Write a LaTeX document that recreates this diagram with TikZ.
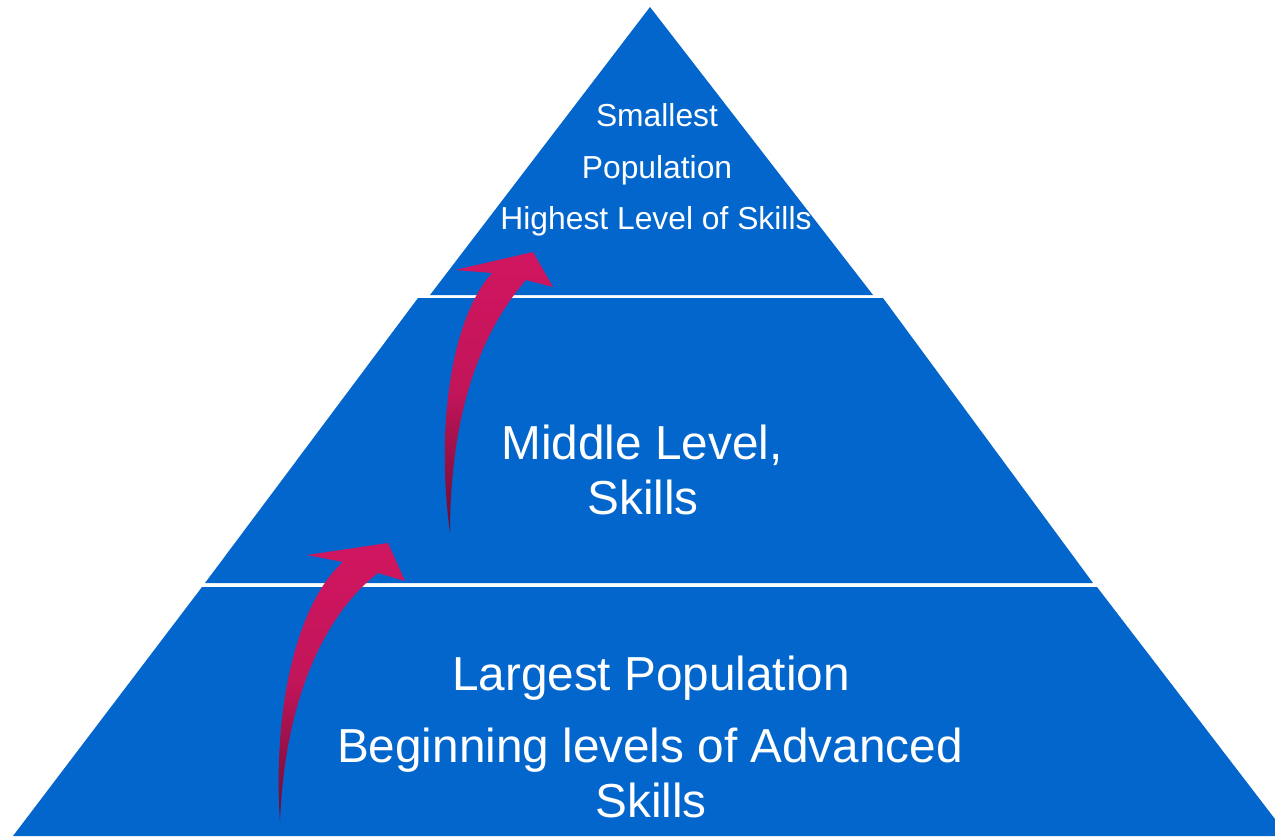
\documentclass[tikz,border=0pt]{standalone}
\usepackage{fontspec}
\setmainfont{Liberation Sans}
\definecolor{pyrblue}{HTML}{0366CC}
\definecolor{arrpink}{HTML}{D11660}
\definecolor{arrdark}{HTML}{6A0C34}
\tikzset{
  band/.style={fill=pyrblue, draw=none},
  curvearrow/.style={draw=none, top color=arrpink, bottom color=arrdark, middle color=arrpink!85!arrdark},
  smalltext/.style={text=white, font=\fontsize{31.8}{38}\selectfont, anchor=base, inner sep=0pt},
  bigtext/.style={text=white, font=\fontsize{47.7}{56}\selectfont, anchor=base, inner sep=0pt}
}
\begin{document}
\begin{tikzpicture}[x=1pt, y=-1pt]
\clip (0,0) rectangle (1275,836);
\fill[white] (0,0) rectangle (1275,836);
% bands
\path[band] (650,7) -- (873,295) -- (430,295) -- cycle;
\path[band] (418,298) -- (883,298) -- (1093,583) -- (205,583) -- cycle;
\path[band] (202,587) -- (1097,587) -- (1288,836) -- (13,836) -- cycle;
% texts
\node[smalltext] (t1) at (657,126) {Smallest};
\node[smalltext] (t2) at (657,178) {Population};
\node[smalltext] (t3) at (656,229) {Highest Level of Skills};
\node[bigtext] (m1) at (642,459) {Middle Level,};
\node[bigtext] (m2) at (643,514) {Skills};
\node[bigtext] (b1) at (651,690) {Largest Population};
\node[bigtext] (b2) at (650,762) {Beginning levels of Advanced};
\node[bigtext] (b3) at (651,817) {Skills};
% curved arrows
\shade[curvearrow] (280,822) .. controls (285,690) and (330,610) .. (378,573)
  -- (405,581) -- (388,543) -- (307,555) -- (343,562)
  .. controls (300,600) and (272,700) .. (280,822) -- cycle;
\shade[curvearrow] (450,533) .. controls (450,450) and (465,350) .. (526,280)
  -- (553,287) -- (533,252) -- (455,270) -- (492,273)
  .. controls (450,320) and (436,430) .. (450,533) -- cycle;
\end{tikzpicture}
\end{document}
